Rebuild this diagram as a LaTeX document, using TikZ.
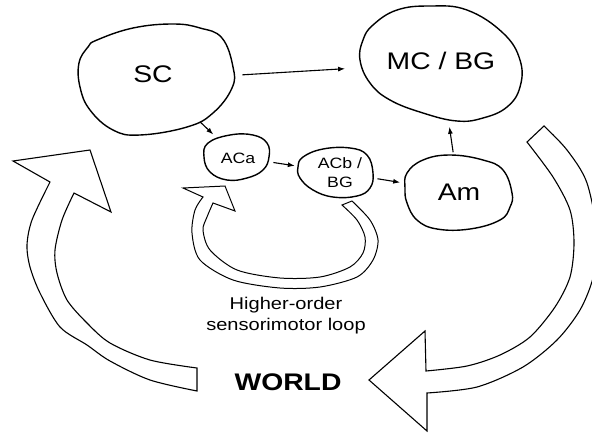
\documentclass[tikz,border=0pt]{standalone}
\usepackage{fontspec}
\setmainfont[FakeStretch=1.18]{Liberation Sans}
\usetikzlibrary{arrows.meta,shapes.geometric}

\begin{document}
\begin{tikzpicture}[x=1pt,y=-1pt,
  blob/.style={draw=black, line width=1.4pt, line join=round},
  flow/.style={draw=black, line width=1.1pt, fill=white, line join=miter},
  conn/.style={draw=black, line width=1.1pt, -{Latex[length=7pt,width=5pt]}},
  region/.style={ellipse, inner sep=0pt, draw=none},
  bigtext/.style={font=\fontsize{24}{28}\selectfont, inner sep=0pt},
  smalltext/.style={font=\fontsize{15}{19.5}\selectfont, align=center, inner sep=0pt},
  notetext/.style={font=\fontsize{17}{21}\selectfont, align=center, inner sep=0pt},
]
\useasboundingbox (0,0) rectangle (592,432);
\clip (0,0) rectangle (592,432);

% outer sensorimotor loop through the world: left arc rising towards SC
\draw[flow] plot[smooth] coordinates {(197,391) (150,380) (110,361) (87,345) (60,327) (40,293) (30,267) (27,245) (32,220) (50,182)}
  -- (13,161) -- (90,150) -- (111,212) -- (74,193)
  -- plot[smooth] coordinates {(74,193) (62,220) (55,250) (57,273) (67,300) (87,323) (110,343) (150,360) (197,368)}
  -- cycle;

% right arc descending from MC / BG back to the world
\draw[flow] plot[smooth] coordinates {(544,126) (567,150) (587,183) (598,240) (593,278) (580,310) (557,340) (523,367) (477,387) (427,393)}
  -- (427,431) -- (369,380) -- (425,331) -- (426,371)
  -- plot[smooth] coordinates {(426,371) (467,366) (500,355) (530,337) (555,307) (570,277) (574,243) (570,210) (553,177) (527,142)}
  -- cycle;

% higher-order loop from ACb / BG back to ACa
\draw[flow, line width=1pt] plot[smooth] coordinates {(352,201) (370,220) (378,240) (373,260) (357,277) (320,287) (280,288) (233,280) (200,260) (192,233) (195,210) (203,197)}
  -- (183,188) -- (225,186) -- (235,211) -- (213,203)
  -- plot[smooth] coordinates {(213,203) (207,217) (203,230) (210,250) (237,270) (280,278) (320,277) (350,267) (363,253) (365,237) (357,220) (342,205)}
  -- cycle;

% brain regions
\draw[blob] plot[smooth cycle, tension=0.7] coordinates {(97,40) (133,28) (173,24) (200,28) (222,38) (233,67) (232,88) (213,113) (187,127) (140,135) (113,130) (90,110) (80,87) (79,63) (88,47)};
\draw[blob] plot[smooth cycle, tension=0.7] coordinates {(373,25) (397,10) (430,6) (467,10) (503,33) (520,60) (520,87) (507,107) (483,118) (457,121) (423,113) (390,100) (370,83) (360,60) (363,40)};
\draw[blob] plot[smooth cycle, tension=0.7] coordinates {(407,173) (423,160) (450,155) (483,160) (503,170) (512,193) (510,207) (500,220) (470,229) (437,229) (417,220) (407,203) (405,188)};
\draw[blob] plot[smooth cycle, tension=0.7] coordinates {(208,143) (230,135) (253,135) (267,143) (269,157) (263,170) (247,178) (227,180) (210,172) (204,157)};
\draw[blob] plot[smooth cycle, tension=0.7] coordinates {(303,157) (323,149) (350,148) (367,155) (373,173) (370,188) (357,196) (333,197) (313,190) (300,178) (298,167)};

% outlines used as connector ends
\node[region, minimum width=155pt, minimum height=111pt] (SC) at (156,80) {};
\node[region, minimum width=162pt, minimum height=116pt] (MC) at (440,63) {};
\node[region, minimum width=107pt, minimum height=74pt] (Am) at (459,192) {};
\node[region, minimum width=66pt, minimum height=46pt] (ACa) at (237,157) {};
\node[region, minimum width=75pt, minimum height=49pt] (ACb) at (336,172) {};

% labels
\node[bigtext, anchor=base] (SClabel) at (153,82) {SC};
\node[bigtext, anchor=base] (MClabel) at (441,69) {MC / BG};
\node[bigtext, anchor=base] (Amlabel) at (459,200) {Am};
\node[smalltext, anchor=base] (ACalabel) at (238,163.3) {ACa};
\node[smalltext] (ACblabel) at (340,172.5) {ACb /\\BG};
\node[notetext] (looplabel) at (286,316) {Higher-order\\sensorimotor loop};
\node[bigtext, anchor=base, font=\fontsize{24}{28}\selectfont\bfseries] (world) at (288,390) {WORLD};

% connections
\draw[conn, shorten <=9pt, shorten >=14pt] (SC) -- (MC);
\draw[conn, shorten <=-3.5pt, shorten >=5.6pt] (SC) -- (ACa);
\draw[conn, shorten <=4pt, shorten >=4.5pt] (ACa) -- (ACb);
\draw[conn, shorten <=5pt, shorten >=6.6pt] (ACb) -- (Am);
\draw[conn, shorten <=2.8pt, shorten >=6pt] (Am) -- (MC);
\end{tikzpicture}
\end{document}
